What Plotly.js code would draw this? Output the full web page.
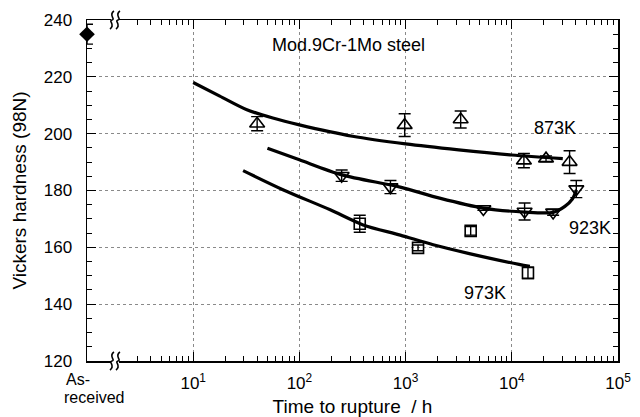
<!DOCTYPE html>
<html>
<head>
<meta charset="utf-8">
<script src="https://cdn.plot.ly/plotly-3.0.1.min.js"></script>
<style>
html,body{margin:0;padding:0;background:#fff;}
#chart{width:640px;height:417px;}
</style>
</head>
<body>
<div id="chart"></div>
<script>
// ---- data ----
const asReceivedX = [1];
const asReceivedHV = [235];
const asReceivedErr = [3.5];

const t873 = [40, 980, 3300, 13000, 21000, 35000];
const hv873 = [203.5, 203, 205, 190.5, 191.2, 190];
const err873 = [2.5, 4, 3, 2.5, 1, 4];

const t923 = [250, 720, 5400, 13200, 24500, 40500];
const hv923 = [185.2, 181.2, 173.5, 172.6, 172.3, 180.5];
const err923 = [2, 2.3, 0.5, 3, 1, 3];

const t973 = [370, 1310, 4100, 14200];
const hv973 = [168.3, 159.8, 165.8, 151];
const err973 = [3, 1, 1.5, 2];

// fitted curves
const fitT873 = [10, 17.8, 31.6, 56.2, 100, 316, 1000, 3160, 10000, 30200];
const fitHV873 = [218, 213.2, 208.5, 205.5, 203.1, 199.1, 196.4, 194.3, 192.5, 191.2];
const fitT923 = [50, 100, 251, 891, 2090, 5370, 13200, 24500, 31600, 37200, 40700];
const fitHV923 = [194.9, 190.8, 185.5, 181.2, 177.3, 173.8, 172.4, 172.3, 174.4, 177, 180.2];
const fitT973 = [29.5, 70.8, 195, 398, 891, 1820, 3980, 11700, 14800];
const fitHV973 = [187.0, 180.2, 173.2, 167.9, 164.3, 160.9, 157.8, 154.0, 153.3];

const xTickVals = [10, 100, 1000, 10000, 100000];
const xTickText = ['10<sup>1</sup>', '10<sup>2</sup>', '10<sup>3</sup>', '10<sup>4</sup>', '10<sup>5</sup>'];
const xMinorVals = [3,4,5,6,7,8,9, 20,30,40,50,60,70,80,90, 200,300,400,500,600,700,800,900,
  2000,3000,4000,5000,6000,7000,8000,9000, 20000,30000,40000,50000,60000,70000,80000,90000];

const labelTitle = 'Mod.9Cr-1Mo steel';
const labelAs1 = 'As-';
const labelAs2 = 'received';
const labels = ['873K', '923K', '973K'];
const xTitle = 'Time to rupture  / h';
const yTitle = 'Vickers hardness (98N)';

// ---- styling ----
const FONT = 'Liberation Sans, Arial, Helvetica, sans-serif';
function errBar(arr){ return {type:'data', array: arr, visible:true, color:'#000', thickness:1.4, width:6}; }
function fitLine(x, y){ return {x:x, y:y, mode:'lines', type:'scatter', line:{color:'#000', width:3.2, shape:'spline', smoothing:0.8}, hoverinfo:'skip', showlegend:false}; }

const traces = [
  fitLine(fitT873, fitHV873),
  fitLine(fitT923, fitHV923),
  fitLine(fitT973, fitHV973),
  {x:t873, y:hv873, mode:'markers', type:'scatter', error_y:errBar(err873),
   marker:{symbol:'triangle-up-open', size:13, color:'#000', line:{width:1.6, color:'#000'}}, showlegend:false},
  {x:t923, y:hv923, mode:'markers', type:'scatter', error_y:errBar(err923),
   marker:{symbol:'triangle-down-open', size:13, color:'#000', line:{width:1.6, color:'#000'}}, showlegend:false},
  {x:t973, y:hv973, mode:'markers', type:'scatter', error_y:errBar(err973),
   marker:{symbol:'square-open', size:11, color:'#000', line:{width:1.6, color:'#000'}}, showlegend:false},
  {x:asReceivedX, y:asReceivedHV, mode:'markers', type:'scatter', error_y:errBar(asReceivedErr), cliponaxis:false,
   marker:{symbol:'diamond', size:12, color:'#000', line:{width:0}}, showlegend:false}
];

function breakShapes(yAnchor){
  const bx = (115-87)/531.5;
  const common = {xref:'paper', yref:'paper', xsizemode:'pixel', ysizemode:'pixel', xanchor:bx, yanchor:yAnchor, layer:'above'};
  const wig = (dx) => 'M '+(dx-2)+',-9 C '+(dx+4)+',-5 '+(dx-4)+',-1 '+(dx)+',0 C '+(dx+4)+',1 '+(dx-4)+',5 '+(dx+2)+',9';
  return [
    Object.assign({type:'rect', x0:-4, x1:4, y0:-3, y1:3, fillcolor:'#fff', line:{width:0}}, common),
    Object.assign({type:'path', path:wig(-3), line:{color:'#000', width:1.6}}, common),
    Object.assign({type:'path', path:wig(3), line:{color:'#000', width:1.6}}, common)
  ];
}

const px2x = (px) => (px-87)/531.5;
const py2y = (py) => (361-py)/341;
const annFont = {family:FONT, size:18, color:'#000'};

const layout = {
  width:640, height:417,
  margin:{l:87, r:22, t:20, b:56, pad:0},
  paper_bgcolor:'#fff', plot_bgcolor:'#fff',
  font:{family:FONT, size:17, color:'#000'},
  showlegend:false,
  xaxis:{
    type:'log', range:[0,5], showline:true, linecolor:'#000', linewidth:1.5, mirror:'ticks',
    ticks:'inside', ticklen:9, tickwidth:1.2, tickcolor:'#000',
    tickmode:'array', tickvals:xTickVals, ticktext:xTickText, ticklabelstandoff:6,
    tickfont:{family:FONT, size:17},
    showgrid:true, gridcolor:'#8a8a8a', griddash:'dot', gridwidth:1, zeroline:false,
    minor:{tickmode:'array', tickvals:xMinorVals, ticks:'inside', ticklen:5, tickwidth:1, tickcolor:'#000', showgrid:false},
    title:{text:xTitle, font:{family:FONT, size:19}, standoff:8}
  },
  yaxis:{
    range:[120,240], showline:true, linecolor:'#000', linewidth:1.5, mirror:'ticks',
    ticks:'inside', ticklen:9, tickwidth:1.2, tickcolor:'#000',
    tick0:120, dtick:20, ticklabelstandoff:10, tickfont:{family:FONT, size:17},
    showgrid:true, gridcolor:'#8a8a8a', griddash:'dot', gridwidth:1, zeroline:false,
    minor:{dtick:5, ticks:'inside', ticklen:5, tickwidth:1, tickcolor:'#000', showgrid:false},
    title:{text:yTitle, font:{family:FONT, size:19}, standoff:12}
  },
  annotations:[
    {xref:'paper', yref:'paper', x:px2x(349), y:py2y(45), text:labelTitle, showarrow:false, font:annFont, xanchor:'center', yanchor:'middle'},
    {xref:'paper', yref:'paper', x:px2x(555), y:py2y(128), text:labels[0], showarrow:false, font:annFont, xanchor:'center', yanchor:'middle'},
    {xref:'paper', yref:'paper', x:px2x(590), y:py2y(228), text:labels[1], showarrow:false, font:annFont, xanchor:'center', yanchor:'middle'},
    {xref:'paper', yref:'paper', x:px2x(485), y:py2y(293), text:labels[2], showarrow:false, font:annFont, xanchor:'center', yanchor:'middle'},
    {xref:'paper', yref:'paper', x:px2x(65), y:py2y(379), text:labelAs1, showarrow:false, font:{family:FONT, size:16, color:'#000'}, xanchor:'left', yanchor:'middle', borderpad:0},
    {xref:'paper', yref:'paper', x:px2x(63), y:py2y(398), text:labelAs2, showarrow:false, font:{family:FONT, size:16, color:'#000'}, xanchor:'left', yanchor:'middle', borderpad:0}
  ],
  shapes: breakShapes(0).concat(breakShapes(1))
};

Plotly.newPlot('chart', traces, layout, {staticPlot:true, displayModeBar:false});
</script>
</body>
</html>
